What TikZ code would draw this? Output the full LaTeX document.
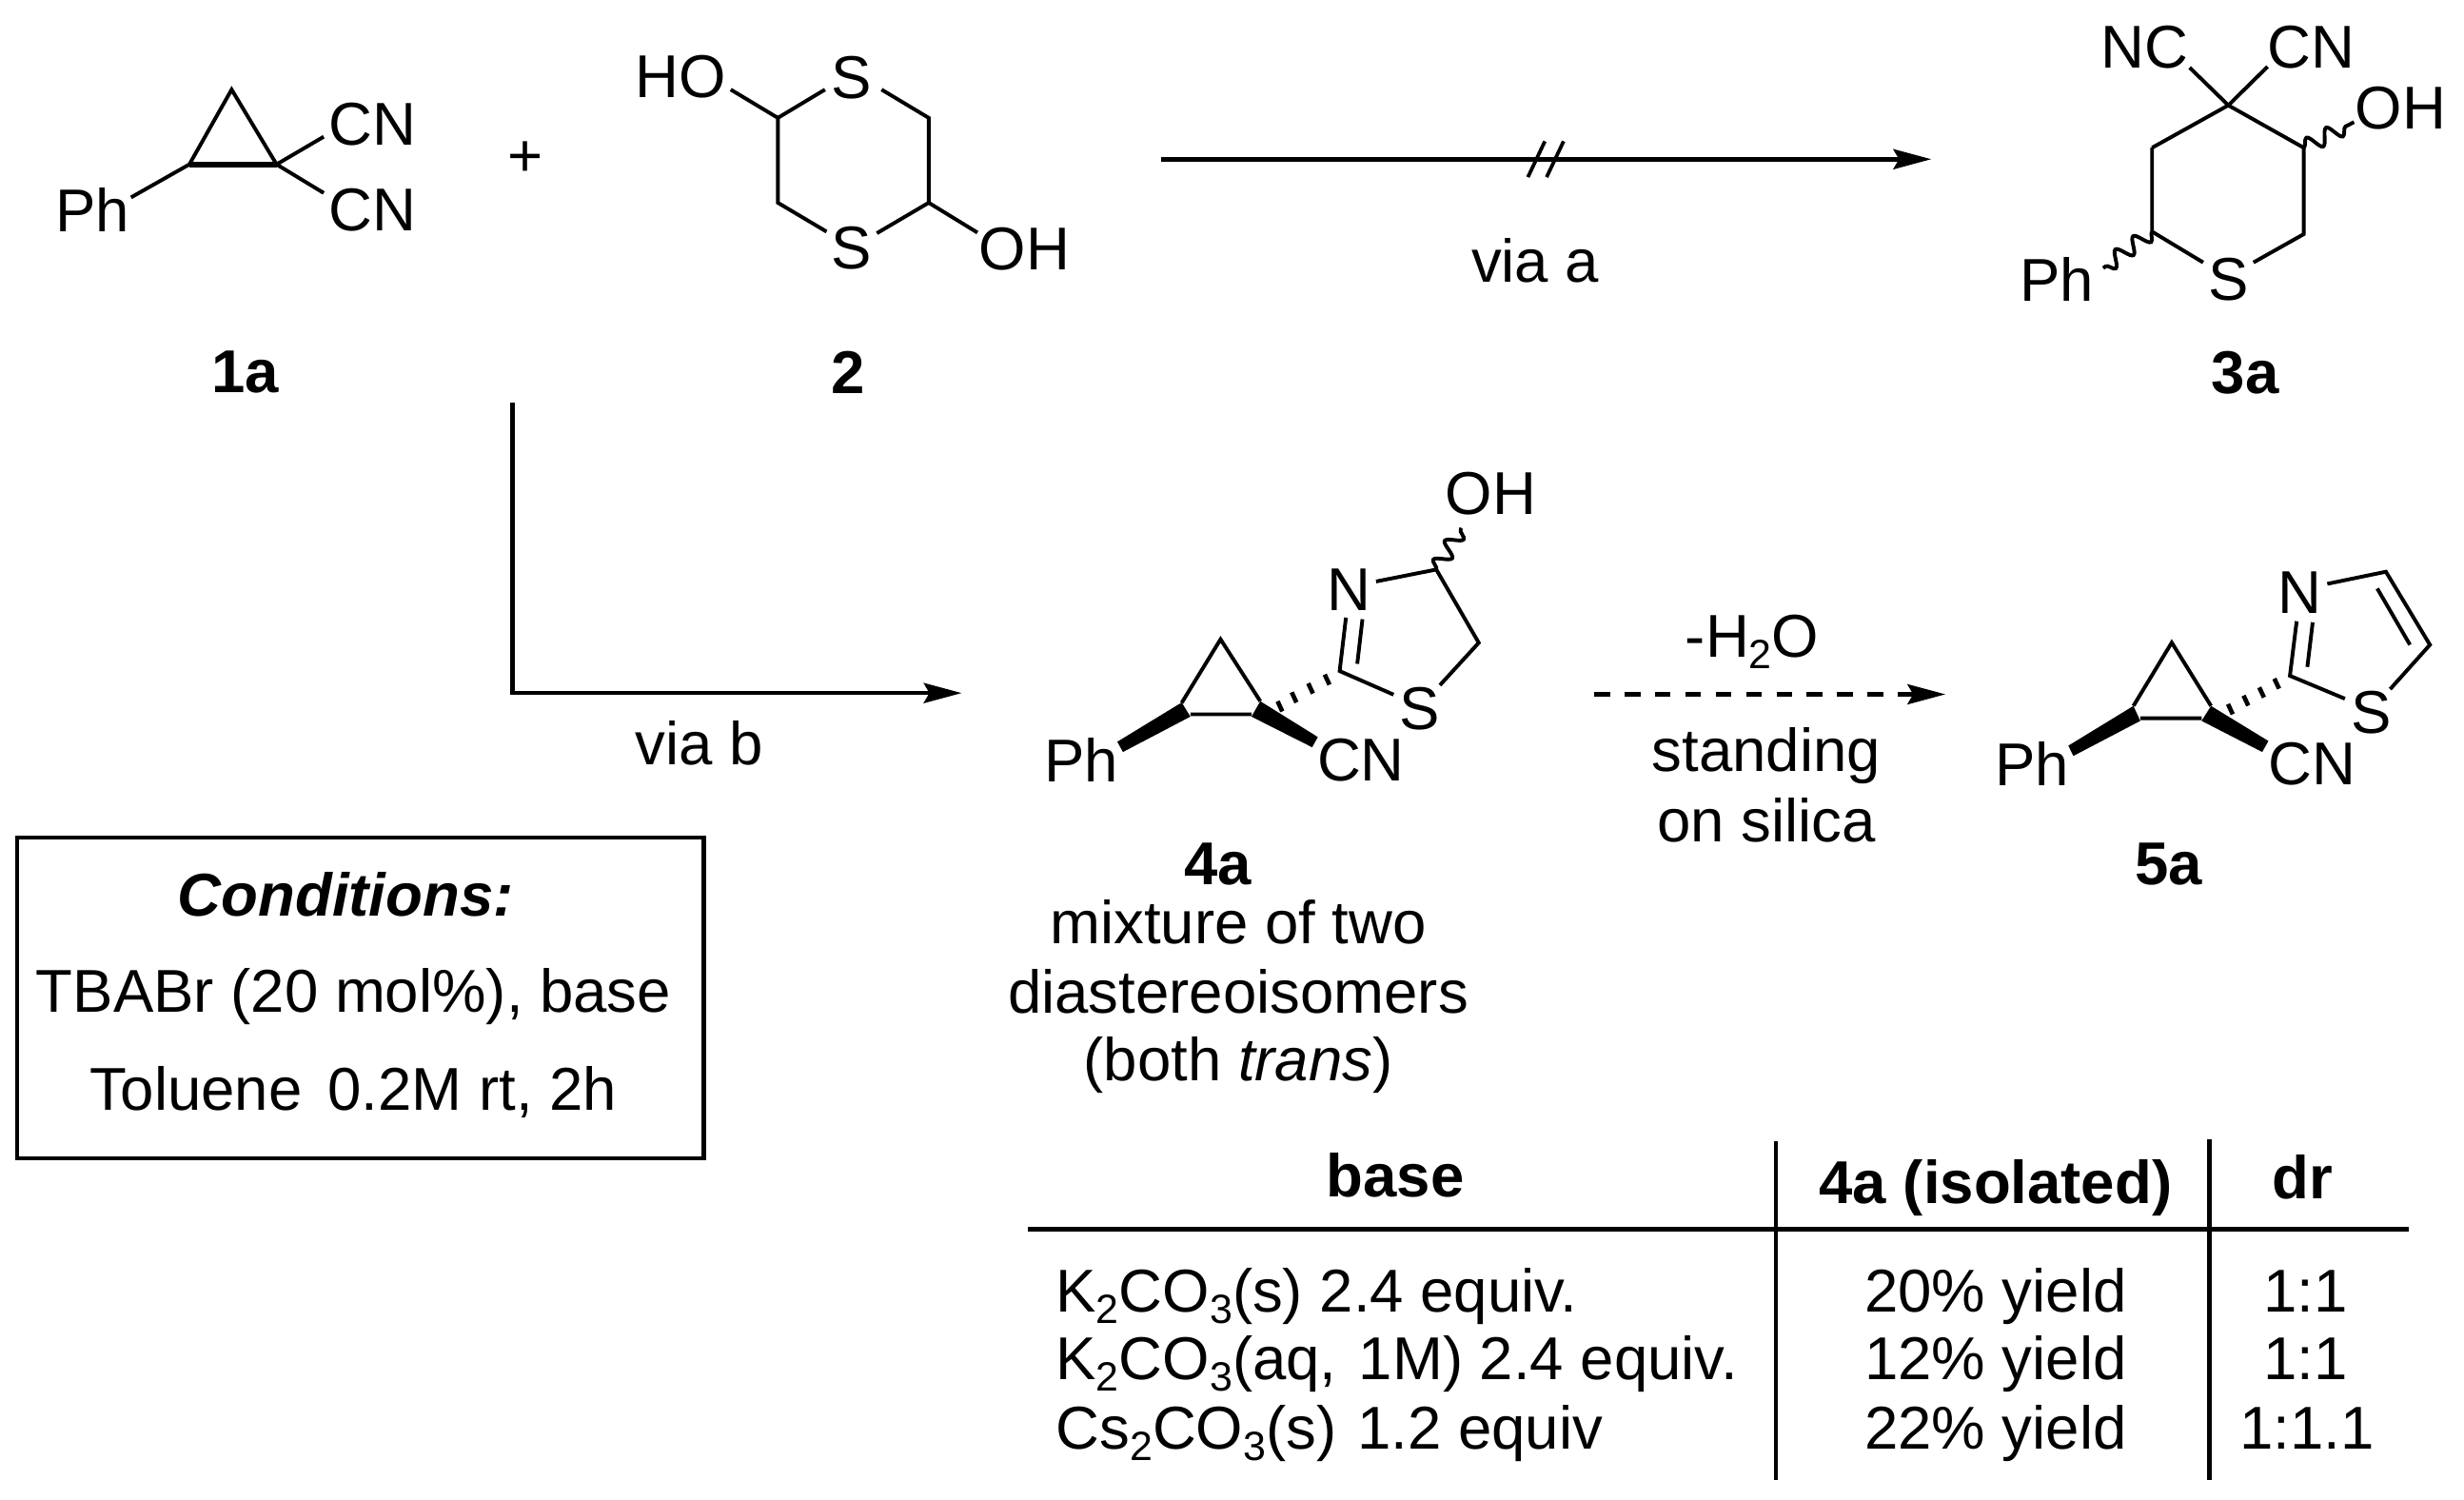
\documentclass[tikz,border=0pt]{standalone}
\usepackage{fontspec}
\setmainfont{Liberation Sans}
\usetikzlibrary{arrows.meta,decorations.pathmorphing}
\newcommand{\sbs}[1]{\raisebox{-4.2pt}{\fontsize{14.8}{15}\selectfont #1}}
\tikzset{
  lbl/.style={inner sep=0pt,outer sep=0pt,font=\fontsize{21.9}{25}\selectfont,anchor=center},
  cpd/.style={lbl,font=\fontsize{21.9}{25}\selectfont\bfseries},
  cell/.style={lbl,anchor=base west},
  mid/.style={lbl,anchor=base},
  bond/.style={line width=1.35pt,line join=miter},
  rule/.style={line width=1.6pt},
  wavy/.style={bond,decorate,decoration={snake,segment length=8pt,amplitude=2.8pt}},
  wedge/.style={fill=black,draw=none},
  hashb/.style={line width=1.6pt},
  rxn/.style={line width=1.6pt,-{Stealth[length=13.7pt,width=7.2pt,inset=2pt]}},
}
\begin{document}
\begin{tikzpicture}[x=0.02cm,y=-0.02cm]
\useasboundingbox (0,0) rectangle (1568,954);
% --- 1a
\coordinate (a1) at (147.4,57);
\coordinate (a2) at (120.5,104.6);
\coordinate (a3) at (176,104.6);
\node[lbl] (a1cn1) at (237,79) {CN};
\node[lbl] (a1cn2) at (237,133.7) {CN};
\node[lbl] (a1ph) at (59,133.7) {Ph};
\coordinate (a1e1) at (206,87);
\coordinate (a1e2) at (206,122.8);
\coordinate (a1e3) at (83.4,125.6);
\draw[bond] (a2) -- (a1) -- (a3) (a1e3) -- (a2) (a1e1) -- (a3) -- (a1e2);
\draw[line width=2.2pt] (a2) -- (a3);
\node[cpd] (n1a) at (156,237) {1a};
\node[lbl] (plus) at (334.6,101) {+};
% --- 2
\node[lbl] (b2ho) at (433,49) {HO};
\node[lbl] (b2s1) at (542,49.5) {S};
\node[lbl] (b2s2) at (542,158) {S};
\node[lbl] (b2oh) at (652,158.5) {OH};
\coordinate (b1) at (495,75);
\coordinate (b2) at (591,75);
\coordinate (b3) at (591,129);
\coordinate (b4) at (495,129);
\coordinate (be1) at (465,57);
\coordinate (be2) at (525,57);
\coordinate (be3) at (561,57);
\coordinate (be4) at (526,147.4);
\coordinate (be5) at (558,148.4);
\coordinate (be6) at (622,148);
\draw[bond] (be1) -- (b1) -- (be2) (be3) -- (b2) -- (b3) -- (be5) (b3) -- (be6) (be4) -- (b4) -- (b1);
\node[cpd] (n2) at (540,237) {2};
% --- top arrow
\coordinate (t1) at (739,101.3);
\coordinate (t2) at (1229,101.3);
\draw[rxn] (t1) -- (t2);
\coordinate (s1a) at (972.3,112.7); \coordinate (s1b) at (983.1,89.9);
\coordinate (s2a) at (984.2,112.7); \coordinate (s2b) at (995,89.9);
\draw[line width=1.3pt] (s1a) -- (s1b) (s2a) -- (s2b);
\node[lbl] (viaa) at (977,166) {via a};
% --- 3a
\coordinate (c1) at (1418,67);
\coordinate (c2) at (1369.5,94);
\coordinate (c3) at (1466,94);
\coordinate (c4) at (1369.5,147.4);
\coordinate (c5) at (1466,149);
\coordinate (ce1) at (1402,167);
\coordinate (ce2) at (1434,167);
\coordinate (ce3) at (1393.4,43);
\coordinate (ce4) at (1443,42.4);
\coordinate (ce5) at (1498,77.7);
\coordinate (ce6) at (1338.4,170.6);
\node[lbl] (c3s) at (1418,177.7) {S};
\node[lbl] (c3nc) at (1365,30) {NC};
\node[lbl] (c3cn) at (1471,30) {CN};
\node[lbl] (c3oh) at (1527.6,68.6) {OH};
\node[lbl] (c3ph) at (1309,177.7) {Ph};
\draw[bond] (ce3) -- (c1) -- (ce4) (c2) -- (c1) -- (c3) -- (c5) -- (ce2) (ce1) -- (c4) -- (c2);
\draw[wavy] (c3) -- (ce5);
\draw[wavy] (c4) -- (ce6);
\node[cpd] (n3a) at (1428.7,237) {3a};
% --- via b arrow
\coordinate (v1) at (326,256);
\coordinate (v2) at (326,441);
\coordinate (v3) at (612,441);
\draw[rxn] (v1) -- (v2) -- (v3);
\node[lbl] (viab) at (445,473) {via b};
% --- Conditions box
\node[draw,rule,minimum width=0.02cm*437,minimum height=0.02cm*204,inner sep=0pt] (box) at (229.5,635) {};
\node[lbl,font=\fontsize{21.9}{25}\selectfont\bfseries\itshape] (cond) at (220,569) {Conditions:};
\node[lbl] (tbabr) at (225,634) {TBABr (20 mol\%), base};
\node[lbl] (tol) at (225,695) {Toluene\hspace{9.3pt}0.2M rt, 2h};
% --- 4a
\coordinate (d1) at (776.7,406.8);
\coordinate (d2) at (752,447.2);
\coordinate (d3) at (802,446.2);
\coordinate (d4) at (757.5,454.5);
\coordinate (d5) at (796.5,454.5);
\coordinate (d6) at (852.5,427);
\coordinate (d7) at (941,409);
\coordinate (d8) at (914,362.4);
\node[lbl] (d4ph) at (688,483.6) {Ph};
\node[lbl] (d4cn) at (866,483.6) {CN};
\node[lbl] (d4n) at (858.3,375) {N};
\node[lbl] (d4s) at (903.5,451) {S};
\node[lbl] (d4oh) at (948.7,314) {OH};
\draw[bond] (d2) -- (d1) -- (d3) (d4) -- (d5);
\fill[wedge] (752,447) -- (757.5,456) -- (714.6,478.5) -- (711,472) -- cycle;
\fill[wedge] (802,446.2) -- (796.4,456) -- (835,475.5) -- (838.6,469) -- cycle;
\draw[hashb] (813,446.2) -- (816,452.7) (822,440.5) -- (825,447) (832.5,434.8) -- (835.5,441.3) (843,429.2) -- (846,435.7);
\coordinate (de1) at (856.5,393);
\coordinate (de2) at (863.7,422.4);
\coordinate (de3) at (867,394);
\coordinate (de4) at (886.8,442);
\coordinate (de5) at (916.3,436);
\coordinate (de6) at (875.7,370);
\coordinate (de7) at (930,336);
\draw[bond] (de1) -- (d6) -- (de4) (de2) -- (de3) (de5) -- (d7) -- (d8) -- (de6);
\draw[wavy] (d8) -- (de7);
\node[cpd] (n4a) at (775,550) {4a};
\node[lbl] (mix1) at (788,587) {mixture of two};
\node[lbl] (mix2) at (788,631) {diastereoisomers};
\node[lbl] (mix3) at (788,678) {(both \textit{trans})};
% --- dashed arrow
\coordinate (e1) at (1014.5,441.8);
\coordinate (e2) at (1238,441.8);
\draw[rxn,dash pattern=on 5.7pt off 5.3pt] (e1) -- (e2);
\node[lbl,anchor=base] (wat) at (1115,418) {-H\sbs{2}O};
\node[lbl] (st1) at (1124,481) {standing};
\node[lbl] (st2) at (1124,522) {on silica};
% --- 5a
\coordinate (f1) at (1382,408.9);
\coordinate (f2) at (1357.6,449.2);
\coordinate (f3) at (1407,449.2);
\coordinate (f4) at (1362,457);
\coordinate (f5) at (1401,457);
\coordinate (f6) at (1457.2,430);
\coordinate (f7) at (1546.3,410.3);
\coordinate (f8) at (1518.3,363.8);
\node[lbl] (f5ph) at (1293.3,486) {Ph};
\node[lbl] (f5cn) at (1471.5,486) {CN};
\node[lbl] (f5n) at (1463.6,377) {N};
\node[lbl] (f5s) at (1508.8,453.3) {S};
\draw[bond] (f2) -- (f1) -- (f3) (f4) -- (f5);
\fill[wedge] (1357.6,449.2) -- (1362,458.7) -- (1319.4,481) -- (1316.2,474.5) -- cycle;
\fill[wedge] (1407,449.2) -- (1401,458.7) -- (1439.6,478.5) -- (1443.5,471.5) -- cycle;
\draw[hashb] (1417.8,448) -- (1420.8,454.5) (1427.7,442.6) -- (1430.7,449) (1437.7,437.4) -- (1440.7,443.8) (1447.3,431.8) -- (1450.3,438.2);
\coordinate (fe1) at (1461.5,395.3);
\coordinate (fe2) at (1468.3,424.4);
\coordinate (fe3) at (1471.7,396);
\coordinate (fe4) at (1492.2,444.6);
\coordinate (fe5) at (1521,438.5);
\coordinate (fe6) at (1481,371.5);
\coordinate (fe7) at (1512.8,374.5);
\coordinate (fe8) at (1533.6,410.3);
\draw[bond] (fe1) -- (f6) -- (fe4) (fe2) -- (fe3) (fe5) -- (f7) -- (f8) -- (fe6) (fe7) -- (fe8);
\node[cpd] (n5a) at (1380,549.6) {5a};
% --- Table
\coordinate (h1) at (654,782);
\coordinate (h2) at (1533,782);
\coordinate (g1) at (1130,726);
\coordinate (g2) at (1130,942);
\coordinate (g3) at (1406,725);
\coordinate (g4) at (1406,942);
\draw[rule] (h1) -- (h2) (g1) -- (g2) (g3) -- (g4);
\node[cpd] (th1) at (888,748) {base};
\node[cpd] (th2) at (1270,756) {4a (isolated)};
\node[cpd] (th3) at (1465,749) {dr};
\node[cell] (r1a) at (672,835) {K\sbs{2}CO\sbs{3}(s) 2.4 equiv.};
\node[cell] (r2a) at (672,878) {K\sbs{2}CO\sbs{3}(aq,\hspace{2pt} 1M) 2.4 equiv.};
\node[cell] (r3a) at (672,922) {Cs\sbs{2}CO\sbs{3}(s)\hspace{1.5pt} 1.2 equiv};
\node[mid] (r1b) at (1270,835) {20\% yield};
\node[mid] (r2b) at (1270,878) {12\% yield};
\node[mid] (r3b) at (1270,922) {22\% yield};
\node[mid] (r1c) at (1467,835) {1:1};
\node[mid] (r2c) at (1467,878) {1:1};
\node[mid] (r3c) at (1468,922) {1:1.1};
\end{tikzpicture}
\end{document}
